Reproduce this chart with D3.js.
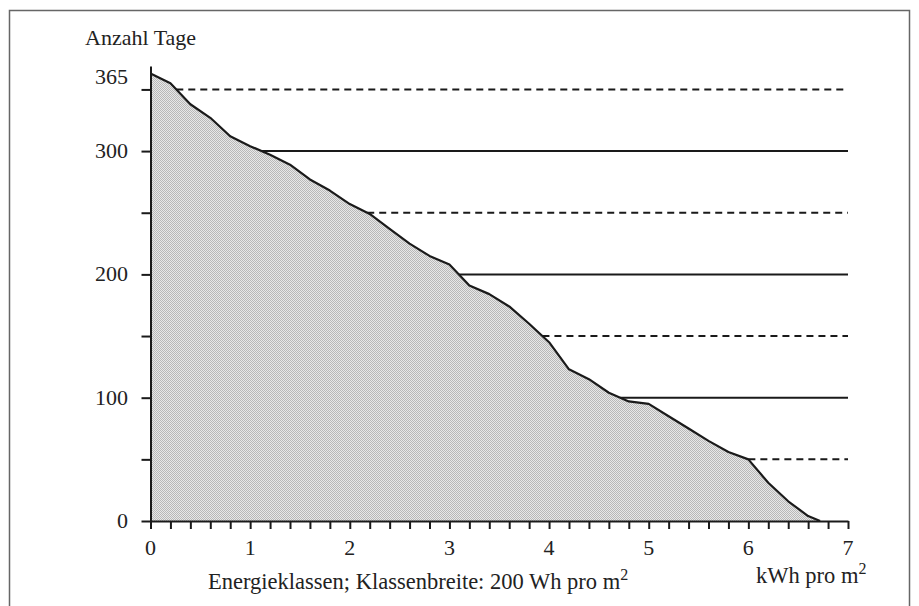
<!DOCTYPE html>
<html><head><meta charset="utf-8">
<script src="https://cdn.jsdelivr.net/npm/d3@7"></script>
<style>
body{margin:0;background:#fff}
text{font-family:"Liberation Serif","Times New Roman",serif;fill:#222}
</style>
</head><body>
<svg id="c" width="919" height="606"></svg>
<script>
// Energy classes (kWh per m2) and number of days reaching at least that energy
const energyKWh = [0,0.2,0.4,0.6,0.8,1.0,1.2,1.4,1.6,1.8,2.0,2.2,2.4,2.6,2.8,3.0,3.2,3.4,3.6,3.8,4.0,4.2,4.4,4.6,4.8,5.0,5.2,5.4,5.6,5.8,6.0,6.2,6.4,6.6,6.72];
const days      = [363,355,338,327,312,304,297,289,277,268,257,249,237,225,215,208,191,184,174,160,145,123,115,104,97,95,85,75,65,56,50,31,16,4,0];
const refLevels = [350,300,250,200,150,100,50];
const yTickValues = [0,50,100,150,200,250,300,350];
const yLabelValues = [0,100,200,300];
const yTopLabel = 365;
const xLabelValues = [0,1,2,3,4,5,6,7];
const yTitle = "Anzahl Tage";
const xTitle = "Energieklassen; Klassenbreite: 200 Wh pro m";
const xUnit = "kWh pro m";

const svg = d3.select("#c");
const x = d3.scaleLinear().domain([0,7]).range([150.5,848]);
const y = d3.scaleLinear().domain([0,369]).range([521,66]);

// frame
svg.append("rect").attr("x",9.5).attr("y",10.5).attr("width",900).attr("height",640)
  .attr("fill","none").attr("stroke","#666").attr("stroke-width",1.5);

// pattern
const defs = svg.append("defs");
const pat = defs.append("pattern").attr("id","dots").attr("width",2).attr("height",2)
  .attr("patternUnits","userSpaceOnUse");
pat.append("rect").attr("width",2).attr("height",2).attr("fill","#e8e8e8");
pat.append("rect").attr("width",1).attr("height",1).attr("fill","#b8b8b8");
pat.append("rect").attr("x",1).attr("y",1).attr("width",1).attr("height",1).attr("fill","#b8b8b8");

const pts = energyKWh.map((e,i)=>({e, d:days[i]}));

svg.append("path").datum(pts)
  .attr("d", d3.area().x(p=>x(p.e)).y0(y(0)).y1(p=>y(p.d)))
  .attr("fill","url(#dots)");

// reference lines starting where the curve crosses the level
function crossing(L){
  for(let i=0;i<pts.length-1;i++){
    const a=pts[i], b=pts[i+1];
    if(a.d>=L && b.d<=L){
      const t = (a.d-L)/(a.d-b.d || 1);
      return a.e + t*(b.e-a.e);
    }
  }
  return 0;
}
svg.append("g").selectAll("line").data(refLevels).join("line")
  .attr("x1", L=>x(crossing(L))).attr("x2", x(7))
  .attr("y1", L=>y(L)).attr("y2", L=>y(L))
  .attr("stroke","#1a1a1a").attr("stroke-width",2)
  .attr("stroke-dasharray", L=> L%100===0 ? null : "7,5");

// curve
svg.append("path").datum(pts)
  .attr("d", d3.line().x(p=>x(p.e)).y(p=>y(p.d)))
  .attr("fill","none").attr("stroke","#1a1a1a").attr("stroke-width",2.2)
  .attr("stroke-linejoin","round");

// axes
const yAxis = svg.append("g").attr("transform",`translate(${x(0)},0)`)
  .call(d3.axisLeft(y).tickValues(yTickValues).tickSize(9).tickSizeOuter(0).tickFormat(""));
const xTicks = d3.range(36).map(i=>i/5);
const xAxis = svg.append("g").attr("transform",`translate(0,${y(0)})`)
  .call(d3.axisBottom(x).tickValues(xTicks).tickSize(8).tickSizeOuter(0).tickFormat(""));
[yAxis,xAxis].forEach(g=>{
  g.selectAll("path,line").attr("stroke","#1a1a1a").attr("stroke-width",2);
});

// y labels
svg.append("g").selectAll("text").data(yLabelValues).join("text")
  .attr("x",128).attr("y",v=>y(v)+7).attr("text-anchor","end")
  .attr("font-size",22).text(v=>v);
svg.append("text").attr("x",128).attr("y",y(yTopLabel)+13).attr("text-anchor","end")
  .attr("font-size",22).text(yTopLabel);

// x labels
svg.append("g").selectAll("text").data(xLabelValues).join("text")
  .attr("x",v=>x(v)).attr("y",y(0)+34).attr("text-anchor","middle")
  .attr("font-size",22).text(v=>v);

// titles
svg.append("text").attr("x",85).attr("y",45).attr("font-size",22).text(yTitle);
const t1 = svg.append("text").attr("x",208).attr("y",589).attr("font-size",22.5);
t1.append("tspan").text(xTitle);
t1.append("tspan").attr("font-size",16).attr("dy",-9).text("2");
const t2 = svg.append("text").attr("x",756).attr("y",583).attr("font-size",22.5);
t2.append("tspan").text(xUnit);
t2.append("tspan").attr("font-size",16).attr("dy",-9).text("2");
</script>
</body></html>
